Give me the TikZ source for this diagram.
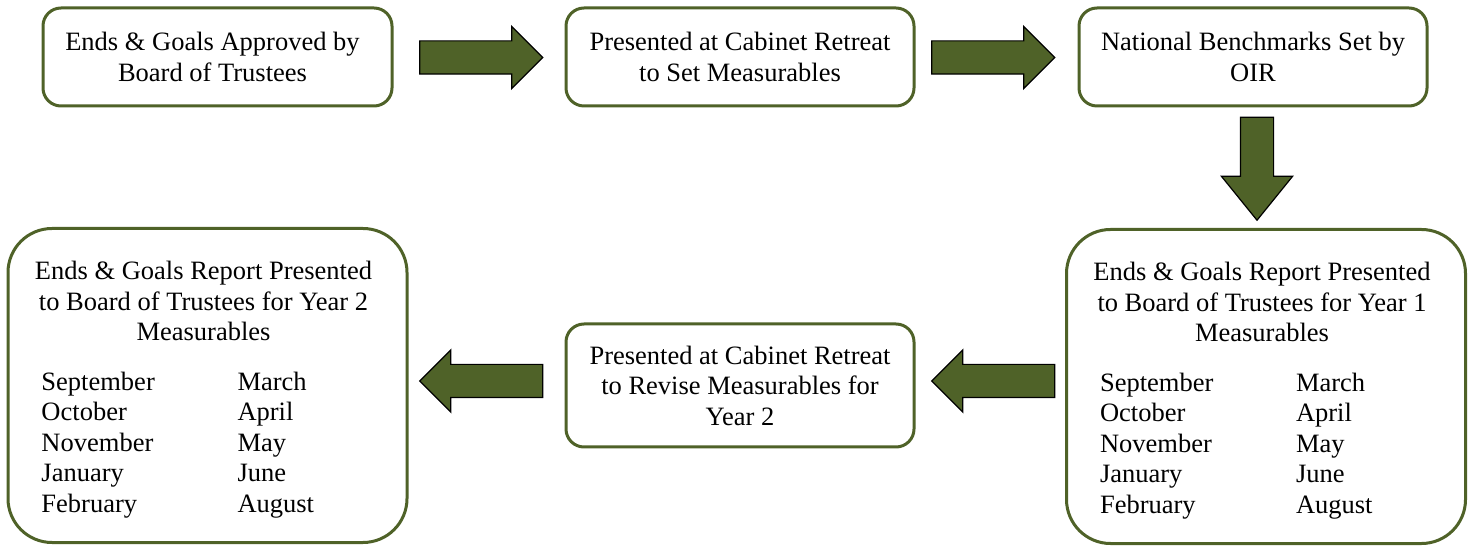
\documentclass[tikz,border=0pt]{standalone}
\usepackage{fontspec}
\setmainfont{LiberationSerif}[Extension=.ttf,UprightFont=*-Regular,BoldFont=*-Bold,ItalicFont=*-Italic,BoldItalicFont=*-BoldItalic]
\usepackage{tikz}
\usetikzlibrary{shapes.arrows}
\definecolor{olivegreen}{HTML}{4F6228}

\tikzset{
  keybox/.style={draw=olivegreen,line width=1.5pt,rounded corners=9pt,fill=white,align=center,inner sep=0pt},
  bigbox/.style={keybox,rounded corners=22pt,minimum width=199.5pt,minimum height=157pt},
  boxtext/.style={align=center,inner sep=0pt},
  fatarrow/.style={single arrow,draw=black,line width=0.6pt,fill=olivegreen,inner sep=8pt,
    single arrow head extend=7.25pt,single arrow tip angle=90,minimum height=61.5pt},
}
\newcommand{\monthlist}{%
\begin{tabular}{@{}p{98pt}@{}p{64pt}@{}}
September & March\\
October & April\\
November & May\\
January & June\\
February & August
\end{tabular}}

\begin{document}
\begin{tikzpicture}[x=0.5pt,y=0.5pt,font=\rmfamily\fontsize{13.25}{15.25}\selectfont]
\useasboundingbox (0,0) rectangle (1471,546);
% top row
\node[keybox,minimum width=174.5pt,minimum height=49pt] (approved) at (217.5,489) {};
\node[boxtext] (approvedtext) at ([xshift=-2.5pt]approved.center) {Ends \& Goals Approved by\\Board of Trustees};
\node[keybox,minimum width=174pt,minimum height=49pt] (retreat) at (740,489) {Presented at Cabinet Retreat\\to Set Measurables};
\node[keybox,minimum width=174pt,minimum height=49pt] (oir) at (1253,489) {National Benchmarks Set by\\OIR};
% bottom row
\node[bigbox] (yearone) at (1266,159.5) {};
\node[boxtext] (yearonetext) at ([xshift=-2pt,yshift=-3pt]yearone.center) {Ends \& Goals Report Presented\\to Board of Trustees for Year 1\\Measurables\\[13pt]\monthlist};
\node[keybox,minimum width=174pt,minimum height=61.5pt] (revise) at (740,160.5) {Presented at Cabinet Retreat\\to Revise Measurables for\\Year 2};
\node[bigbox] (yeartwo) at (207.5,160.5) {};
\node[boxtext] (yeartwotext) at ([xshift=-2pt,yshift=-3pt]yeartwo.center) {Ends \& Goals Report Presented\\to Board of Trustees for Year 2\\Measurables\\[13pt]\monthlist};
% block arrows
\node[fatarrow] (arr1) at (473,488.5) {};
\node[fatarrow] (arr2) at (985,488.5) {};
\node[fatarrow,shape border rotate=270,minimum height=51.5pt,
  single arrow head extend=9.5pt,single arrow tip angle=78] (arr3) at (1257,387.5) {};
\node[fatarrow,shape border rotate=180] (arr4) at (1001.5,165) {};
\node[fatarrow,shape border rotate=180] (arr5) at (489.5,165) {};
\end{tikzpicture}
\end{document}
